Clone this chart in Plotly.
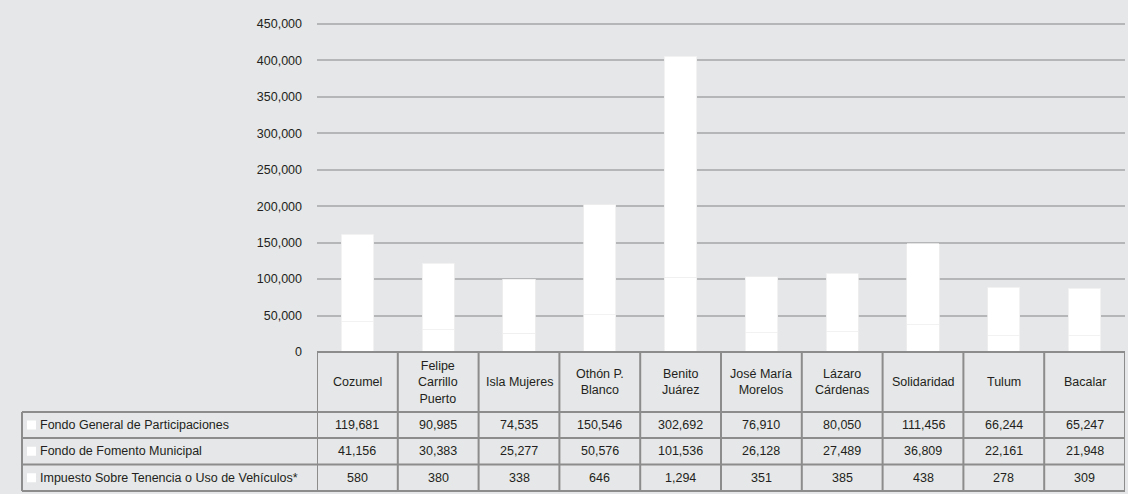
import plotly.graph_objects as go

# municipios (Quintana Roo) and their amounts
municipios = ["Cozumel", "Felipe Carrillo Puerto", "Isla Mujeres", "Othón P. Blanco",
              "Benito Juárez", "José María Morelos", "Lázaro Cárdenas", "Solidaridad",
              "Tulum", "Bacalar"]
header_labels = ["Cozumel", "Felipe<br>Carrillo<br>Puerto", "Isla Mujeres", "Othón P.<br>Blanco",
                 "Benito<br>Juárez", "José María<br>Morelos", "Lázaro<br>Cárdenas", "Solidaridad",
                 "Tulum", "Bacalar"]

fondo_general = [119681, 90985, 74535, 150546, 302692, 76910, 80050, 111456, 66244, 65247]
fondo_fomento = [41156, 30383, 25277, 50576, 101536, 26128, 27489, 36809, 22161, 21948]
impuesto_tenencia = [580, 380, 338, 646, 1294, 351, 385, 438, 278, 309]

series = [
    ("Fondo General de Participaciones", fondo_general),
    ("Fondo de Fomento Municipal", fondo_fomento),
    ("Impuesto Sobre Tenencia o Uso de Vehículos*", impuesto_tenencia),
]

W, H = 1128, 494
BG = "#e6e7e8"
LINE = "#8c8c8c"
FONT = "Liberation Sans, Arial, sans-serif"
TXT = "#231f20"
FS = 12.5

def py(px):
    # pixel row (from top) -> paper fraction
    return 1 - px / H

fig = go.Figure()
# stacked from the bottom: tenencia, fomento, general
for name, vals in reversed(series):
    fig.add_trace(go.Bar(
        x=list(range(len(municipios))), y=vals, name=name,
        marker=dict(color="white", line=dict(color="#efefef", width=0.8)),
        hoverinfo="skip", showlegend=False,
    ))

# table geometry (pixels from top)
header_top, header_bot = 352, 412
row_edges = [412, 438, 464.5, 491]
left_px = 22

shapes = []
n = len(municipios)
shapes.append(dict(type="line", xref="x", yref="paper", x0=-0.5, x1=n - 0.5,
                   y0=py(header_top), y1=py(header_top)))
for i in range(n + 1):
    shapes.append(dict(type="line", xref="x", yref="paper", x0=i - 0.5, x1=i - 0.5,
                       y0=py(header_top), y1=py(row_edges[-1])))
for r in row_edges:
    shapes.append(dict(type="line", xref="paper", yref="paper", x0=left_px / W, x1=1125 / W,
                       y0=py(r), y1=py(r)))
shapes.append(dict(type="line", xref="paper", yref="paper", x0=left_px / W, x1=left_px / W,
                   y0=py(row_edges[0]), y1=py(row_edges[-1])))
for s in shapes:
    s["line"] = dict(color=LINE, width=2)
    s["layer"] = "above"

annotations = []
hy = py((header_top + header_bot) / 2)
for i, lab in enumerate(header_labels):
    annotations.append(dict(x=i, y=hy, xref="x", yref="paper", text=lab, showarrow=False,
                            xanchor="center", yanchor="middle", align="center",
                            font=dict(size=FS, color=TXT, family=FONT)))
for r, (name, vals) in enumerate(series):
    cy = (row_edges[r] + row_edges[r + 1]) / 2
    annotations.append(dict(x=38 / W, y=py(cy), xref="paper", yref="paper", text=name,
                            showarrow=False, xanchor="left", yanchor="middle",
                            font=dict(size=FS, color=TXT, family=FONT)))
    # small white legend key in front of each row label
    shapes.append(dict(type="rect", xref="paper", yref="paper", x0=27 / W, x1=36 / W,
                       y0=py(cy + 4.5), y1=py(cy - 4.5), line=dict(width=0), fillcolor="white"))
    for i, v in enumerate(vals):
        annotations.append(dict(x=i, y=py(cy), xref="x", yref="paper", text=f"{v:,}",
                                showarrow=False, xanchor="center", yanchor="middle",
                                font=dict(size=FS, color=TXT, family=FONT)))

# 0 sits at y=352px, 450,000 at y=24px; top of the axis a bit higher so the
# 450,000 gridline is drawn inside the plot area
y_top_px = 20
y_max = 450000 * (352 - y_top_px) / (352 - 24)

fig.update_layout(
    width=W, height=H,
    margin=dict(l=0, r=0, t=0, b=0),
    paper_bgcolor=BG, plot_bgcolor=BG,
    barmode="stack", bargap=0.6,
    font=dict(family=FONT, size=FS, color=TXT),
    xaxis=dict(domain=[317 / W, 1125 / W], range=[-0.5, n - 0.5], automargin=False,
               showticklabels=False, showgrid=False, zeroline=False),
    yaxis=dict(domain=[py(352), py(y_top_px)], range=[0, y_max], tick0=0, dtick=50000,
               automargin=False, tickformat=",", showgrid=True, gridcolor="#b5b6b8",
               gridwidth=2, zeroline=False, ticks="", ticklabelstandoff=14,
               tickfont=dict(size=FS, color=TXT, family=FONT)),
    shapes=shapes,
    annotations=annotations,
)

fig.write_html("out.html", post_script="document.body.style.margin='0';",
               config={"displayModeBar": False})
